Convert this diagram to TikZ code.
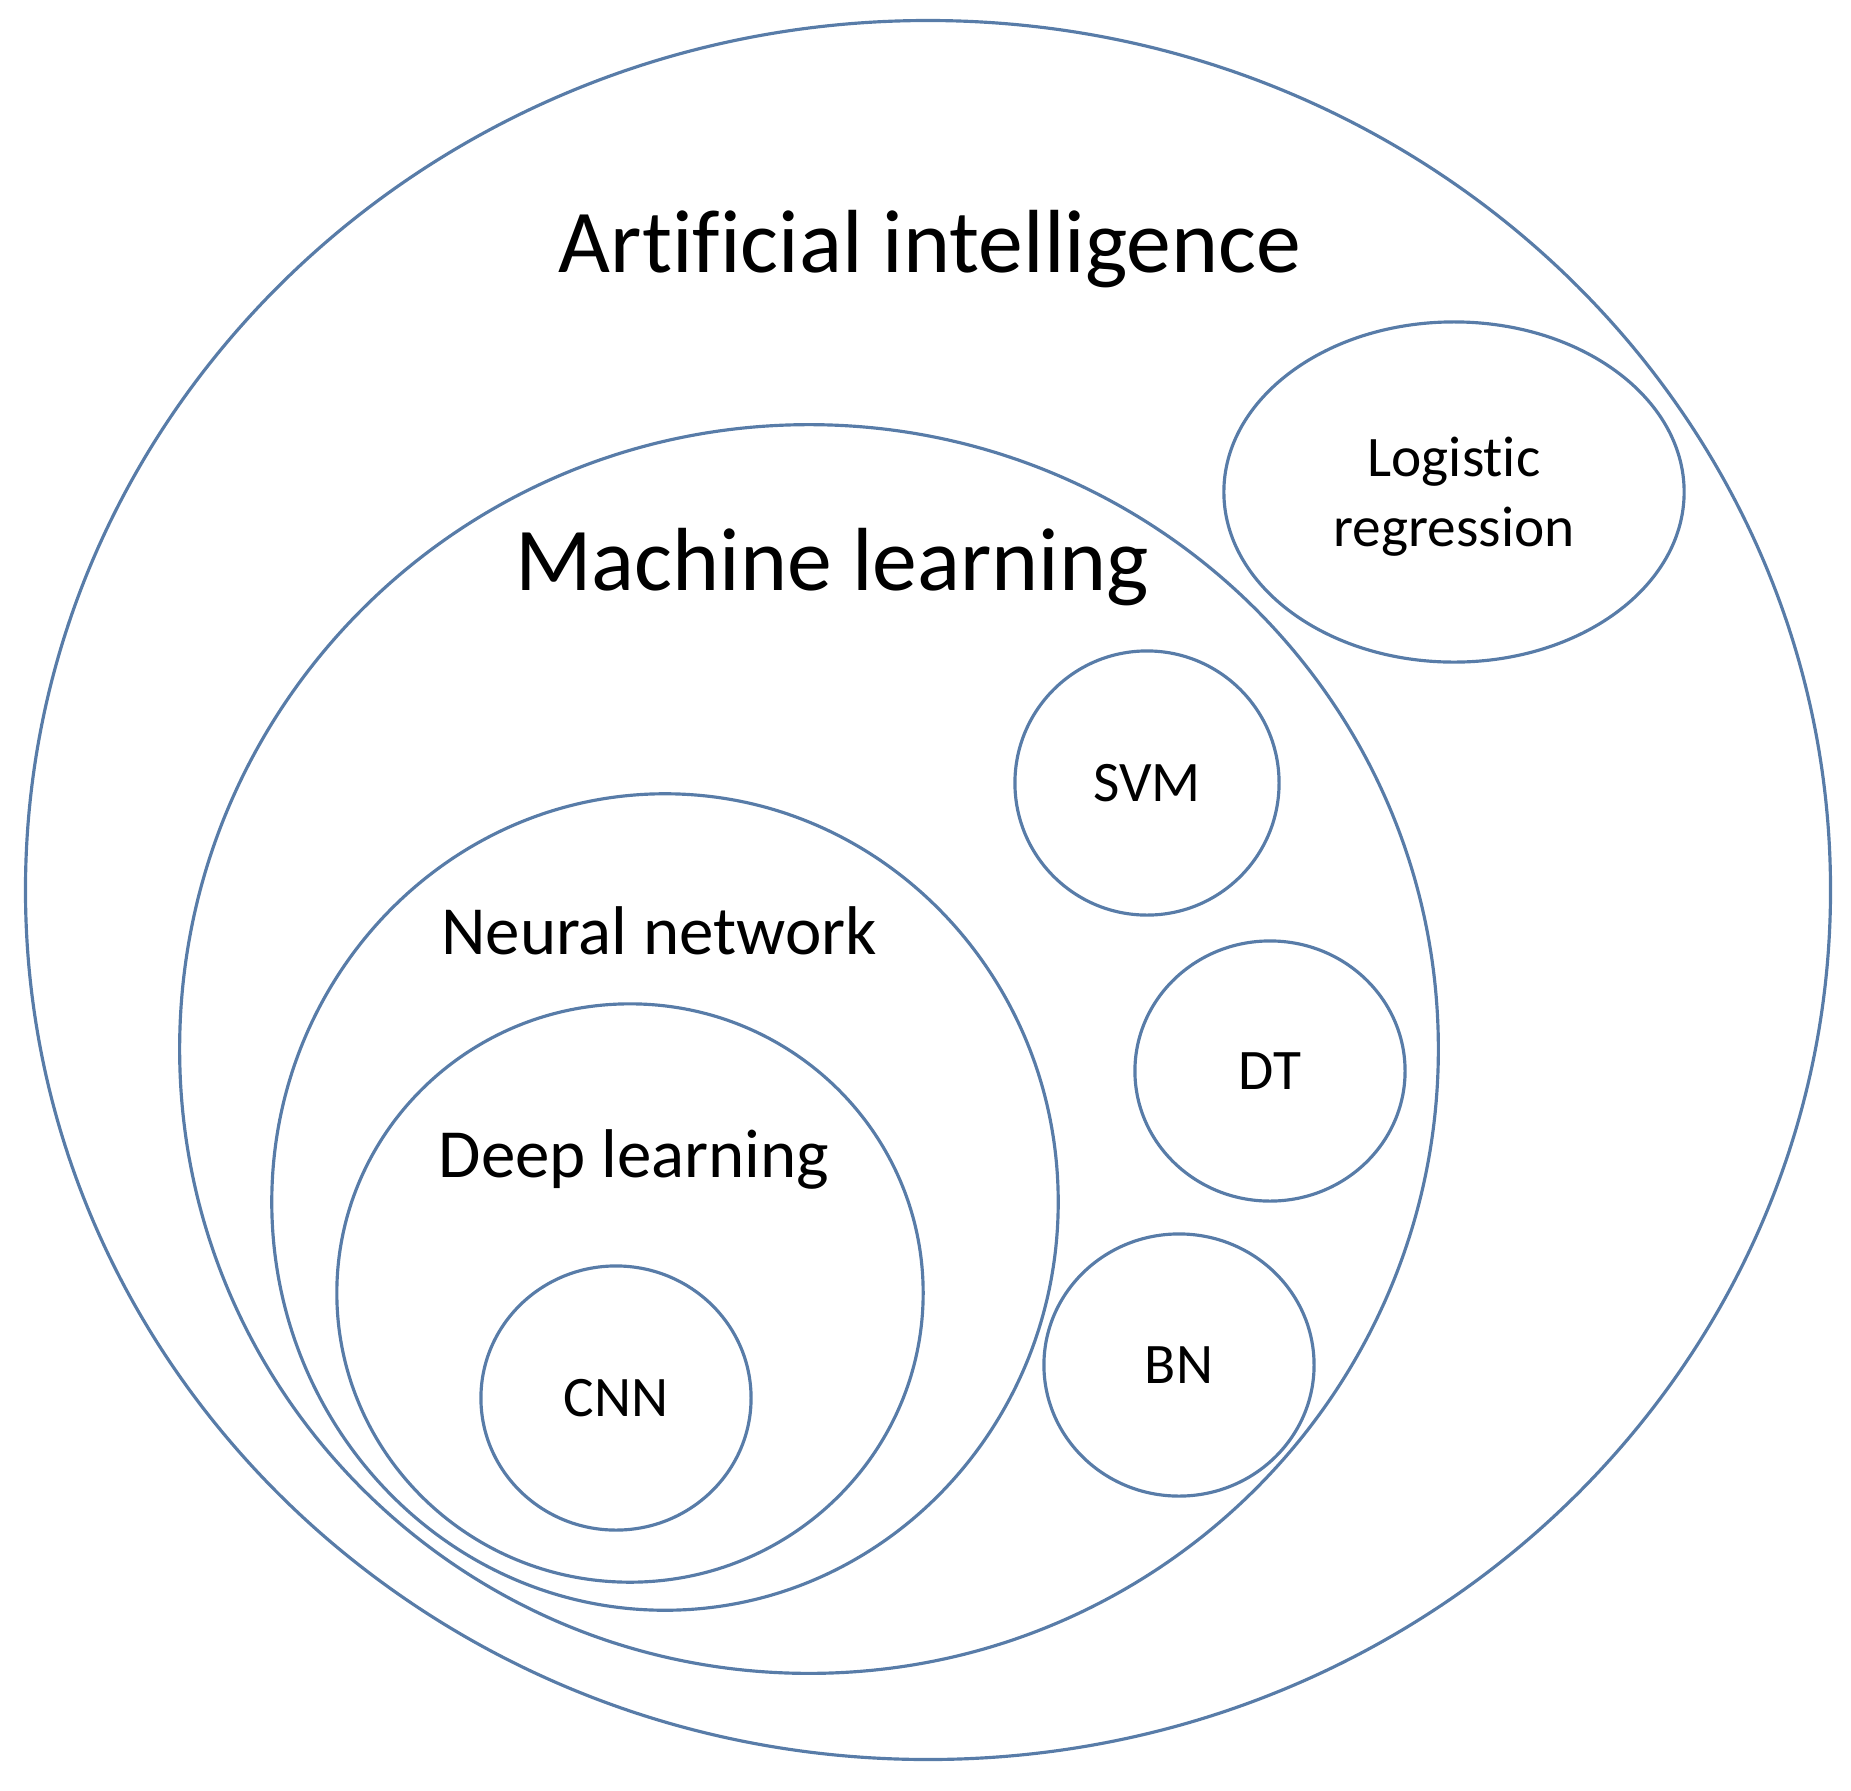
\documentclass[tikz,border=0pt]{standalone}
\usepackage{fontspec}
\setmainfont{Carlito}[Ligatures=NoCommon]
\usetikzlibrary{shapes.geometric}
\definecolor{ringblue}{RGB}{88,124,168}
\tikzset{
  ring/.style={draw=ringblue, line width=0.9pt, ellipse, inner sep=0pt},
  bigtext/.style={font=\fontsize{25.5}{30}\selectfont, anchor=base},
  midtext/.style={font=\fontsize{19.6}{24}\selectfont, anchor=base},
  smalltext/.style={font=\fontsize{16.3}{19.9}\selectfont, align=center}
}
\begin{document}
\begin{tikzpicture}[x=0.01cm, y=-0.01cm] %% 1 unit = 1 pixel of the layout

\useasboundingbox (0,0) rectangle (1851,1790);

% nested sets
\node[ring, minimum width=18.04cm, minimum height=17.38cm] (ai) at (928,890) {};
\node[ring, minimum width=12.58cm, minimum height=12.48cm] (ml) at (809,1049) {};
\node[ring, minimum width=7.86cm, minimum height=8.16cm] (nn) at (665,1202) {};
\node[ring, minimum width=5.86cm, minimum height=5.78cm] (dl) at (630,1293) {};

% methods
\node[ring, smalltext, minimum width=2.70cm, minimum height=2.64cm] (cnn) at (616,1398) {CNN};
\node[ring, smalltext, minimum width=2.64cm, minimum height=2.64cm] (svm) at (1147,783) {SVM};
\node[ring, smalltext, minimum width=2.70cm, minimum height=2.60cm] (dt) at (1270,1071) {DT};
\node[ring, smalltext, minimum width=2.70cm, minimum height=2.62cm] (bn) at (1179,1365) {BN};
\node[ring, minimum width=4.60cm, minimum height=3.40cm] (lr) at (1454,492) {};
\node[smalltext] (lr-text) at (1454,497) {Logistic\\regression};

% set titles
\node[bigtext] (ai-title) at (930,272) {Artificial intelligence};
\node[bigtext] (ml-title) at (832,590) {Machine learning};
\node[midtext] (nn-title) at (659,954) {Neural network};
\node[midtext] (dl-title) at (634,1177) {Deep learning};

\end{tikzpicture}
\end{document}
